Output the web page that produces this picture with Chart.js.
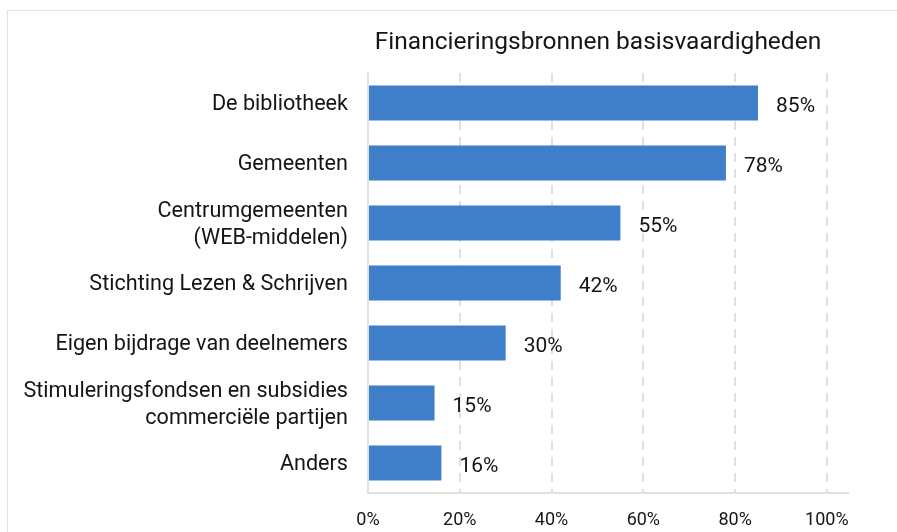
<!DOCTYPE html>
<html>
<head>
<meta charset="utf-8">
<script src="https://cdn.jsdelivr.net/npm/chart.js@4/dist/chart.umd.min.js"></script>
<style>
  html, body { margin: 0; padding: 0; background: #fff; }
  #wrap { position: relative; width: 897px; height: 532px; }
  #frame { position: absolute; left: 7px; top: 10px; right: 0; bottom: 0;
           border-top: 1px solid #e3e3e3; border-left: 1px solid #e3e3e3; }
  canvas { position: absolute; left: 0; top: 0; }
</style>
</head>
<body>
<div id="wrap">
  <div id="frame"></div>
  <canvas id="myChart" width="897" height="532"></canvas>
</div>
<script>
var chartTitle = 'Financieringsbronnen basisvaardigheden';
var categories = [
  'De bibliotheek',
  'Gemeenten',
  ['Centrumgemeenten', '(WEB-middelen)'],
  'Stichting Lezen & Schrijven',
  'Eigen bijdrage van deelnemers',
  ['Stimuleringsfondsen en subsidies', 'commerciële partijen'],
  'Anders'
];
// bar lengths; labels show them rounded
var percentages = [85, 78, 55, 42, 30, 14.5, 16];
var tickValues = [0, 20, 40, 60, 80, 100];

var fontFamily = 'Roboto, "Liberation Sans", sans-serif';
var textColor = '#151515';
var gridColor = '#e0e0e0';

// value labels at the end of each bar
var valueLabels = {
  id: 'valueLabels',
  afterDatasetsDraw(chart) {
    let ctx = chart.ctx;
    let meta = chart.getDatasetMeta(0);
    ctx.save();
    ctx.font = '21px ' + fontFamily;
    ctx.fillStyle = textColor;
    ctx.textAlign = 'left';
    ctx.textBaseline = 'middle';
    meta.data.forEach((bar, i) => {
      ctx.fillText(Math.round(percentages[i]) + '%', bar.x + 18, bar.y + 4);
    });
    ctx.restore();
  }
};

// title above plot area
var titlePlugin = {
  id: 'titlePlugin',
  afterDraw(chart) {
    let ctx = chart.ctx;
    let area = chart.chartArea;
    ctx.save();
    ctx.font = '24.5px ' + fontFamily;
    ctx.fillStyle = textColor;
    ctx.textAlign = 'center';
    ctx.textBaseline = 'middle';
    ctx.fillText(chartTitle, (area.left + area.right) / 2 - 10, 43);
    ctx.restore();
  }
};

var ctx = document.getElementById('myChart').getContext('2d');
var myChart = new Chart(ctx, {
  type: 'bar',
  data: {
    labels: categories,
    datasets: [{
      data: percentages,
      backgroundColor: '#3f7fca',
      borderWidth: 0,
      barPercentage: 0.58,
      categoryPercentage: 1
    }]
  },
  options: {
    indexAxis: 'y',
    responsive: false,
    animation: false,
    layout: { padding: { top: 73, right: 49, left: 0, bottom: 0 } },
    plugins: {
      legend: { display: false },
      tooltip: { enabled: false },
      title: { display: false }
    },
    scales: {
      x: {
        min: 0,
        max: 104.6,
        afterBuildTicks: (scale) => {
          scale.ticks = tickValues.map(v => ({ value: v }));
        },
        afterFit: (scale) => { scale.height = 39; },
        grid: { color: gridColor, lineWidth: 2, drawTicks: false },
        border: { display: true, color: gridColor, width: 2, dash: [9, 7] },
        ticks: {
          padding: 17,
          color: textColor,
          font: { family: fontFamily, size: 18 },
          callback: (v) => v + '%'
        }
      },
      y: {
        afterFit: (scale) => { scale.width = 368; },
        grid: { display: false, drawTicks: false },
        border: { display: true, color: gridColor, width: 2 },
        ticks: {
          padding: 20,
          labelOffset: 2,
          color: textColor,
          font: { family: fontFamily, size: 21.6, lineHeight: 1.22 }
        }
      }
    }
  },
  plugins: [valueLabels, titlePlugin]
});
</script>
</body>
</html>
